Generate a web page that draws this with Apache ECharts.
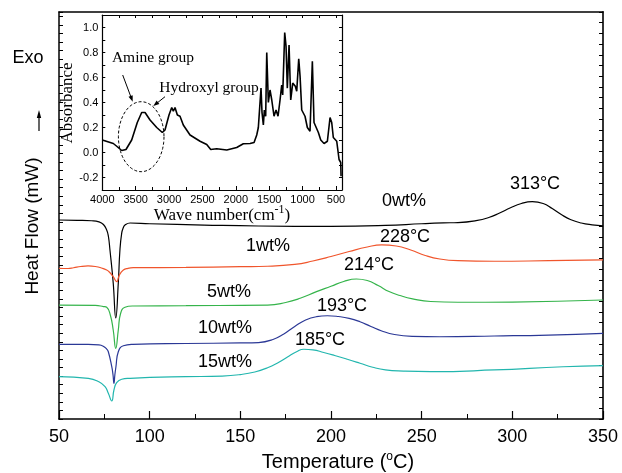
<!DOCTYPE html>
<html><head><meta charset="utf-8">
<script src="https://cdn.jsdelivr.net/npm/echarts@6/dist/echarts.min.js"></script>
<style>html,body{margin:0;padding:0;background:#fff}#c{width:622px;height:473px}</style>
</head><body><div id="c"></div>
<script>
// ---- DSC curves: temperature (°C) and heat flow (arbitrary units, offset) ----
const t0 = [50,60,68,72,74.5,76.3,77.2,78.1,79.9,81.3,82.7,83.6,84.6,85.4,86.4,89.2,100,130,160,200,230,250,262,270,280,287,293,299,305,311,317,322,327,332,338,344,350];
const h0 = [18.58,18.55,18.51,18.41,18.16,17.65,17.09,15.78,12.70,9.43,12.70,15.78,17.37,17.83,18.11,18.30,18.23,18.11,18.02,17.99,18.07,18.23,18.31,18.34,18.52,18.81,19.23,19.72,20.12,20.29,20.12,19.65,19.09,18.63,18.30,18.13,18.04];
const t1 = [50,55,58,62,66,70,73.5,76.3,78,79.9,81.8,83.3,85.5,88,91,120,150,165,180,190,200,210,220,228,236,244,252,260,270,290,320,350];
const h1 = [14.07,14.05,14.12,14.24,14.29,14.24,14.10,13.91,13.68,13.29,12.82,13.45,13.91,14.07,14.13,14.15,14.22,14.26,14.43,14.75,15.17,15.64,16.06,16.25,16.15,15.78,15.27,14.94,14.78,14.73,14.78,14.85];
const t5 = [50,70,74.5,76.3,78.3,79.9,81.3,82.7,84.0,86.4,90.7,120,165,175,183,192,200,207,214,220,226,232,238,245,255,270,300,350];
const h5 = [10.64,10.60,10.50,10.43,9.71,8.31,6.60,8.31,9.87,10.43,10.55,10.58,10.64,10.88,11.27,11.89,12.39,12.84,13.07,12.93,12.46,11.90,11.53,11.22,10.97,10.90,10.92,11.11];
const t10 = [50,65,72,74.4,76.3,77.2,79.1,79.8,80.3,80.8,81.4,82.7,85.5,90.8,120,150,160,168,174,180,186,192,198,204,210,216,222,228,235,245,260,290,320,350];
const h10 = [6.97,6.96,6.92,6.80,6.53,6.28,4.88,4.11,3.33,4.11,4.88,6.28,6.84,6.97,7.05,7.10,7.14,7.42,7.94,8.64,9.24,9.55,9.64,9.57,9.40,9.08,8.64,8.22,7.89,7.72,7.68,7.75,7.84,8.00];
const t15 = [50,66.2,72,75.4,77.2,79.1,80.3,81.8,84.6,89.2,100.2,120,140,150,158,165,171,176,181,185,190,196,202,209,216,223,230,240,255,290,328,350];
const h15 = [3.95,3.80,3.48,3.02,2.40,1.68,2.71,3.39,3.71,3.80,3.89,3.95,4.01,4.15,4.39,4.78,5.28,5.79,6.28,6.51,6.46,6.21,5.93,5.58,5.21,4.83,4.58,4.47,4.42,4.58,4.88,4.98];
const seriesNames = ['0wt%','1wt%','5wt%','10wt%','15wt%'];
const peakLabels = ['313°C','228°C','214°C','193°C','185°C'];
const xTicks = [50,100,150,200,250,300,350];

// ---- FTIR inset: wave number (cm-1) and absorbance ----
const wn = [4000,3985,3835,3784,3710,3645,3560,3476,3410,3360,3285,3185,3101,3061,3035,3001,2960,2936,2911,2876,2836,2787,2686,2536,2436,2376,2286,2136,1987,1888,1862,1787,1727,1687,1663,1638,1623,1608,1588,1573,1553,1537,1513,1488,1462,1428,1398,1368,1338,1313,1298,1268,1248,1229,1203,1178,1148,1109,1088,1058,1038,1013,964,929,889,854,829,803,764,728,679,629,589,564,540,489,454,429,424];
const ab = [0.10,0.09,0.072,0.05,0.016,0.024,0.10,0.24,0.32,0.32,0.26,0.20,0.16,0.18,0.17,0.30,0.36,0.33,0.36,0.30,0.29,0.22,0.14,0.09,0.064,0.024,0.03,0.02,0.04,0.07,0.06,0.072,0.08,0.14,0.20,0.215,0.515,0.32,0.22,0.34,0.29,0.80,0.40,0.50,0.42,0.29,0.34,0.29,0.42,0.54,0.46,0.96,0.85,0.515,0.86,0.42,0.555,0.53,0.49,0.75,0.61,0.34,0.29,0.20,0.17,0.73,0.24,0.25,0.16,0.10,0.072,0.09,0.28,0.24,0.12,0.09,-0.056,-0.08,-0.19];

const FS = 'Liberation Sans, Arial, sans-serif';
const FSERIF = 'Liberation Serif, Times New Roman, serif';
const colors = ['#000000','#f0552c','#35b44b','#2b3896','#22b6ae'];
const temps = [t0,t1,t5,t10,t15];
const heats = [h0,h1,h5,h10,h15];

function pairs(xs, ys){ return xs.map((x,i)=>[x, ys[i]]); }

const chart = echarts.init(document.getElementById('c'), null, {renderer:'canvas'});

function arrowHead(x1,y1,x2,y2,len,w){
  const a=Math.atan2(y2-y1,x2-x1);
  const bx=x2-len*Math.cos(a), by=y2-len*Math.sin(a);
  return [[x2,y2],[bx+w*Math.sin(a),by-w*Math.cos(a)],[bx-w*Math.sin(a),by+w*Math.cos(a)]];
}
function ellipsePts(cx,cy,rx,ry){
  const p=[]; for(let i=0;i<72;i++){const a=i/72*Math.PI*2; p.push([cx+rx*Math.cos(a), cy+ry*Math.sin(a)]);} return p;
}
function txt(x,y,text,size,font,extra){
  return Object.assign({type:'text', x:x, y:y, z:100, style:{text:text, fontSize:size, fontFamily:font, fill:'#000', align:'center', verticalAlign:'middle', textAlign:'center', textVerticalAlign:'middle'}}, extra||{});
}

const labelPos = [[535,184],[405,237],[369,265],[342,306],[320,340]];
const namePos = [[404,201],[268,246],[229,292],[225,328],[225,362]];

const graphics = [];
seriesNames.forEach((n,i)=>{
  graphics.push(txt(namePos[i][0], namePos[i][1], n, 18, FS));
  graphics.push(txt(labelPos[i][0], labelPos[i][1], peakLabels[i], 18, FS));
});
graphics.push(txt(28, 58, 'Exo', 18, FS));
graphics.push({type:'line', shape:{x1:39,y1:131,x2:39,y2:116}, style:{stroke:'#000', lineWidth:1.2}});
graphics.push({type:'polygon', shape:{points:[[39,110],[36.8,118],[41.2,118]]}, style:{fill:'#000'}});
graphics.push(txt(33, 226, 'Heat Flow (mW)', 19, FS, {rotation:Math.PI/2}));
graphics.push({type:'text', x:338, y:462, z:100, style:{
  text:'{a|Temperature (}{s|o}{a|C)}', align:'center', verticalAlign:'middle', textAlign:'center', textVerticalAlign:'middle',
  rich:{a:{fontSize:20, fontFamily:FS, fill:'#000'}, s:{fontSize:12, fontFamily:FS, fill:'#000', padding:[0,0,10,0]}}}});
// inset annotations
graphics.push(txt(68, 103, 'Absorbance', 17, FSERIF, {rotation:Math.PI/2}));
graphics.push({type:'text', x:222, y:216, z:100, style:{
  text:'{a|Wave number(cm}{s|-1}{a|)}', align:'center', verticalAlign:'middle', textAlign:'center', textVerticalAlign:'middle',
  rich:{a:{fontSize:17, fontFamily:FSERIF, fill:'#000'}, s:{fontSize:12, fontFamily:FSERIF, fill:'#000', padding:[0,0,12,0]}}}});
graphics.push(txt(153, 58, 'Amine group', 15.5, FSERIF));
graphics.push(txt(209, 88, 'Hydroxyl group', 15.5, FSERIF));
graphics.push({type:'line', shape:{x1:122.7,y1:75,x2:131.5,y2:98.5}, style:{stroke:'#000', lineWidth:1}});
graphics.push({type:'polygon', shape:{points:arrowHead(122.7,75,132.7,101.7,6,2.2)}, style:{fill:'#000'}});
graphics.push({type:'line', shape:{x1:165,y1:96.7,x2:155.5,y2:104.3}, style:{stroke:'#000', lineWidth:1}});
graphics.push({type:'polygon', shape:{points:arrowHead(165,96.7,153.3,106,6,2.2)}, style:{fill:'#000'}});
graphics.push({type:'polygon', shape:{points:ellipsePts(141.2,136.7,22.8,35)}, style:{fill:'none', stroke:'#000', lineWidth:1, lineDash:[3,2]}});

const mainSeries = seriesNames.map((n,i)=>({
  name:n, type:'line', xAxisIndex:0, yAxisIndex:0, data:pairs(temps[i],heats[i]),
  showSymbol:false, smooth:0.5, lineStyle:{color:colors[i], width:1.2}, itemStyle:{color:colors[i]}, z:3
}));
const insetSeries = {
  type:'line', xAxisIndex:2, yAxisIndex:2, data:wn.map((w,i)=>[-w, ab[i]]),
  showSymbol:false, lineStyle:{color:'#000', width:1.6}, z:4
};

const insetYFmt = v => { const r=Math.round(v*10); return (r%2===0 && r>=-2 && r<=10) ? (r/10).toFixed(1) : ''; };

chart.setOption({
  animation:false,
  backgroundColor:'#fff',
  grid:[
    {left:59, top:12, right:19, bottom:54, show:false},
    {left:102.3, top:15, width:239.7, height:175, show:false}
  ],
  xAxis:[
    {gridIndex:0, type:'value', min:50, max:350, interval:50, position:'bottom',
     axisLine:{show:true, onZero:false, lineStyle:{color:'#000', width:1.5}},
     axisTick:{show:true, inside:true, length:8, lineStyle:{color:'#000', width:1.2}},
     minorTick:{show:true, splitNumber:2, length:5, lineStyle:{color:'#000', width:1}},
     axisLabel:{fontSize:18, color:'#000', fontFamily:FS, margin:9, formatter:v=>xTicks.includes(v)?String(v):''},
     splitLine:{show:false}},
    {gridIndex:0, type:'value', min:50, max:350, position:'top',
     axisLine:{show:true, onZero:false, lineStyle:{color:'#000', width:1.5}},
     axisTick:{show:false}, axisLabel:{show:false}, splitLine:{show:false}},
    {gridIndex:1, type:'value', min:-4000, max:-410, interval:500, position:'bottom',
     axisLine:{show:true, onZero:false, lineStyle:{color:'#000', width:1.2}},
     axisTick:{show:true, inside:true, length:4, lineStyle:{color:'#000'}},
     minorTick:{show:true, splitNumber:2, length:3, lineStyle:{color:'#000'}},
     axisLabel:{fontSize:11, color:'#000', fontFamily:FS, margin:4, showMaxLabel:false, formatter:v=>String(-v)},
     splitLine:{show:false}},
    {gridIndex:1, type:'value', min:-4000, max:-410, interval:250, position:'top',
     axisLine:{show:true, onZero:false, lineStyle:{color:'#000', width:1.2}},
     axisTick:{show:true, inside:true, length:3, lineStyle:{color:'#000'}},
     axisLabel:{show:false}, splitLine:{show:false}}
  ],
  yAxis:[
    {gridIndex:0, type:'value', min:0, max:38, interval:0.8, position:'left',
     axisLine:{show:true, onZero:false, lineStyle:{color:'#000', width:1.5}},
     axisTick:{show:true, inside:true, length:4, lineStyle:{color:'#000'}},
     axisLabel:{show:false}, splitLine:{show:false}},
    {gridIndex:0, type:'value', min:0, max:38, interval:1, position:'right',
     axisLine:{show:true, onZero:false, lineStyle:{color:'#333', width:2}},
     axisTick:{show:true, inside:true, length:4, lineStyle:{color:'#000'}},
     axisLabel:{show:false}, splitLine:{show:false}},
    {gridIndex:1, type:'value', min:-0.3, max:1.1, interval:0.1, position:'left',
     axisLine:{show:true, onZero:false, lineStyle:{color:'#000', width:1.2}},
     axisTick:{show:true, inside:true, length:3, lineStyle:{color:'#000'}},
     axisLabel:{fontSize:11, color:'#000', fontFamily:FS, margin:4, formatter:insetYFmt},
     splitLine:{show:false}},
    {gridIndex:1, type:'value', min:-0.3, max:1.1, interval:0.1, position:'right',
     axisLine:{show:true, onZero:false, lineStyle:{color:'#000', width:1.2}},
     axisTick:{show:true, inside:true, length:3, lineStyle:{color:'#000'}},
     axisLabel:{show:false}, splitLine:{show:false}}
  ],
  series: mainSeries.concat([insetSeries]),
  graphic: graphics
});
</script></body></html>
